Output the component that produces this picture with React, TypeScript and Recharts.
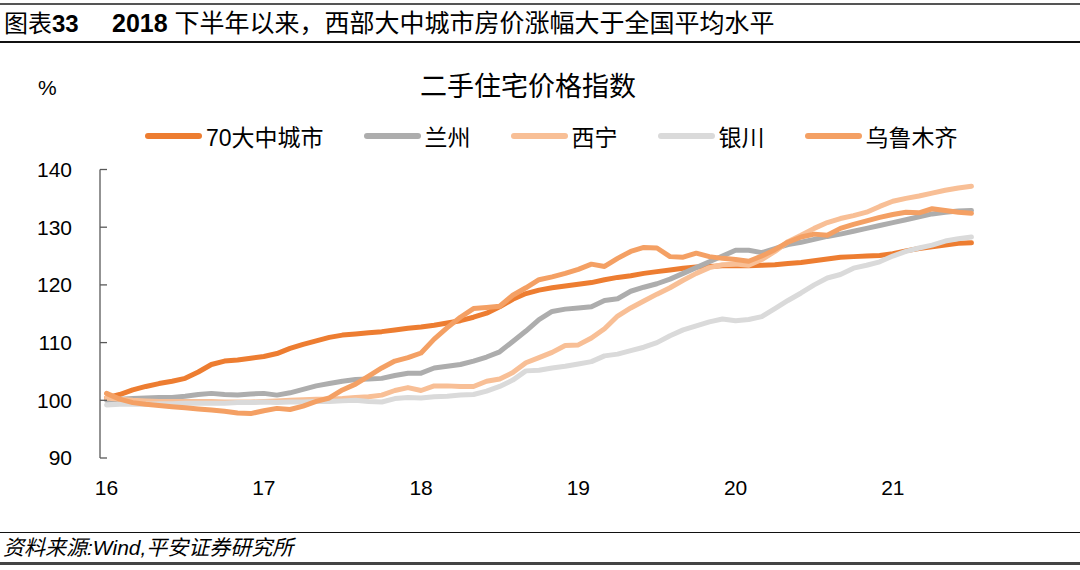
import React from "react";
import { LineChart, Line, XAxis, YAxis } from "recharts";

// 月度数据：2016-01 ~ 2021-07，共 67 个点
const YEARS = ["16", "17", "18", "19", "20", "21"];
const MONTHS = YEARS.flatMap((y) =>
  ["01", "02", "03", "04", "05", "06", "07", "08", "09", "10", "11", "12"].map((m) => `20${y}-${m}`)
).slice(0, 67);

const NATIONAL = [
  100.4, 101.0, 101.8, 102.4, 102.9, 103.3, 103.8, 104.9, 106.2, 106.8, 107.0, 107.3,
  107.6, 108.1, 109.0, 109.7, 110.3, 110.9, 111.3, 111.5, 111.7, 111.9, 112.2, 112.5,
  112.7, 113.0, 113.4, 113.8, 114.4, 115.1, 116.2, 117.5, 118.5, 119.1, 119.5, 119.8,
  120.1, 120.4, 120.9, 121.3, 121.6, 122.0, 122.3, 122.6, 122.9, 123.1, 123.2, 123.3,
  123.3, 123.3, 123.4, 123.5, 123.7, 123.9, 124.2, 124.5, 124.8, 124.9, 125.0, 125.1,
  125.4, 125.9, 126.3, 126.6, 126.9, 127.2, 127.3,
];
const LANZHOU = [
  100.0, 100.2, 100.3, 100.4, 100.5, 100.5, 100.7, 101.0, 101.2, 101.0, 100.9, 101.1,
  101.2, 100.9, 101.3, 101.9, 102.5, 102.9, 103.3, 103.6, 103.7, 103.8, 104.3, 104.7,
  104.7, 105.6, 105.9, 106.2, 106.8, 107.5, 108.4, 110.2, 112.0, 114.0, 115.4, 115.8,
  116.0, 116.2, 117.3, 117.6, 118.9, 119.6, 120.2, 121.0, 122.0, 123.0, 124.0, 125.0,
  126.0, 126.0, 125.6, 126.3, 127.0, 127.4, 127.9, 128.4, 128.8, 129.3, 129.8, 130.3,
  130.8, 131.3, 131.8, 132.3, 132.6, 132.8, 132.9,
];
const XINING = [
  100.4, 100.2, 100.0, 99.9, 99.8, 99.8, 99.8, 99.8, 99.8, 99.7, 99.7, 99.7,
  99.8, 99.9, 100.0, 100.1, 100.2, 100.2, 100.3, 100.5, 100.6, 100.9, 101.7, 102.2,
  101.7, 102.5, 102.5, 102.4, 102.4, 103.3, 103.7, 104.8, 106.5, 107.4, 108.3, 109.5,
  109.6, 110.8, 112.4, 114.6, 116.0, 117.2, 118.4, 119.5, 120.8, 122.0, 123.0, 123.5,
  123.6, 123.4, 124.4, 125.8, 127.5, 128.6, 129.8, 130.8, 131.5, 132.0, 132.6, 133.6,
  134.5, 135.0, 135.4, 135.9, 136.4, 136.8, 137.1,
];
const YINCHUAN = [
  99.2, 99.3, 99.3, 99.3, 99.4, 99.4, 99.5, 99.5, 99.5, 99.5, 99.6, 99.6,
  99.7, 99.6, 99.7, 99.7, 99.8, 99.8, 99.9, 100.0, 99.8, 99.7, 100.3, 100.5,
  100.4, 100.6, 100.7, 100.9, 101.0, 101.6, 102.4, 103.5, 105.1, 105.2, 105.6, 105.9,
  106.3, 106.7, 107.7, 108.0, 108.6, 109.2, 110.0, 111.2, 112.2, 112.9, 113.6, 114.1,
  113.8, 114.0, 114.5, 115.9, 117.3, 118.6, 120.0, 121.2, 121.8, 122.9, 123.4, 124.0,
  125.0, 125.8, 126.4, 126.9, 127.6, 128.0, 128.3,
];
const URUMQI = [
  101.2, 100.2, 99.6, 99.3, 99.1, 98.9, 98.7, 98.5, 98.3, 98.1, 97.8, 97.7,
  98.2, 98.6, 98.4, 99.0, 99.8, 100.4, 101.8, 102.8, 104.2, 105.6, 106.8, 107.4,
  108.2, 110.6, 112.6, 114.4, 115.9, 116.1, 116.3, 118.2, 119.5, 120.9, 121.4, 122.0,
  122.7, 123.6, 123.2, 124.6, 125.8, 126.5, 126.4, 124.9, 124.8, 125.5, 124.9, 124.6,
  124.4, 124.1, 125.0, 126.1, 127.4, 128.3, 128.8, 128.6, 129.8, 130.5, 131.1, 131.7,
  132.2, 132.6, 132.5, 133.2, 132.9, 132.6, 132.4,
];

const Y_TICKS = [90, 100, 110, 120, 130, 140];
const LABEL_TICKS = YEARS.map((_, k) => k * 12); // 每年 1 月
const BOUNDARY_TICKS = YEARS.map((_, k) => k * 12 - 0.5);

const SERIES = [
  { key: "national", name: "70大中城市", color: "#ED7D31", values: NATIONAL },
  { key: "lanzhou", name: "兰州", color: "#ADADAD", values: LANZHOU },
  { key: "xining", name: "西宁", color: "#F8BF96", values: XINING },
  { key: "yinchuan", name: "银川", color: "#DADADA", values: YINCHUAN },
  { key: "urumqi", name: "乌鲁木齐", color: "#F4A064", values: URUMQI },
];

const data = MONTHS.map((month, i) => {
  const row: Record<string, number | string> = { i, month };
  SERIES.forEach((s) => (row[s.key] = s.values[i]));
  return row;
});

const FONT = '"Liberation Sans", Arial, "Noto Sans CJK SC", sans-serif';
const AXIS = "#595959";

function YearTick({ x, y, payload }: any) {
  const label = YEARS[Math.round(payload.value / 12)];
  return (
    <text x={x} y={y} dy="0.71em" textAnchor="middle" fontSize={21} fill="#000" fontFamily={FONT}>
      {label}
    </text>
  );
}

export default function App() {
  return (
    <div style={{ position: "absolute", left: 0, top: 0, width: 1080, height: 570, background: "#fff", fontFamily: FONT, color: "#000" }}>
      {/* 标题栏 */}
      <div style={{ position: "absolute", left: 0, top: 3, width: 1080, height: 0, borderTop: "2px solid #555" }} />
      <div style={{ position: "absolute", left: 4, top: 8, fontSize: 24, lineHeight: "32px", whiteSpace: "nowrap" }}>
        <span>图表</span><b>33</b>
      </div>
      <div style={{ position: "absolute", left: 112, top: 7, fontSize: 25, lineHeight: "32px", whiteSpace: "nowrap" }}>
        <b>2018</b> 下半年以来，西部大中城市房价涨幅大于全国平均水平
      </div>
      <div style={{ position: "absolute", left: 0, top: 41, width: 1080, height: 0, borderTop: "2px solid #111" }} />

      <div style={{ position: "absolute", left: 38, top: 76, fontSize: 21, lineHeight: "24px" }}>%</div>
      <div style={{ position: "absolute", left: 0, width: 1056, top: 71, fontSize: 27, lineHeight: "32px", textAlign: "center" }}>
        二手住宅价格指数
      </div>

      {/* 图例 */}
      <div style={{ position: "absolute", left: 145, top: 121, height: 30, display: "flex", alignItems: "center", fontSize: 23, whiteSpace: "nowrap" }}>
        {SERIES.map((s) => (
          <div key={s.key} style={{ display: "flex", alignItems: "center", marginRight: 40 }}>
            <div style={{ width: 57, height: 6, borderRadius: 3, background: s.color, marginRight: 4 }} />
            <span>{s.name}</span>
          </div>
        ))}
      </div>

      <div style={{ position: "absolute", left: 0, top: 0 }}>
        <LineChart width={1080} height={570} data={data} margin={{ top: 169.5, right: 102, bottom: 72, left: 0 }}>
          <XAxis
            xAxisId="marks"
            dataKey="i"
            type="number"
            domain={[-0.5, 66.5]}
            ticks={BOUNDARY_TICKS}
            tick={false}
            tickSize={-7}
            height={0}
            stroke={AXIS}
            strokeWidth={1.3}
          />
          <XAxis
            xAxisId="labels"
            dataKey="i"
            type="number"
            domain={[-0.5, 66.5]}
            ticks={LABEL_TICKS}
            tick={<YearTick />}
            tickLine={false}
            axisLine={false}
            tickSize={0}
            tickMargin={22}
            height={40}
          />
          <YAxis
            domain={[90, 140]}
            ticks={Y_TICKS}
            width={100}
            tickSize={-7}
            tickMargin={35}
            stroke={AXIS}
            strokeWidth={1.3}
            tick={{ fontSize: 21, fill: "#000", fontFamily: FONT }}
          />
          {SERIES.map((s) => (
            <Line
              key={s.key}
              xAxisId="labels"
              dataKey={s.key}
              name={s.name}
              type="linear"
              stroke={s.color}
              strokeWidth={5}
              strokeLinejoin="round"
              strokeLinecap="round"
              dot={false}
              activeDot={false}
              isAnimationActive={false}
            />
          ))}
        </LineChart>
      </div>

      {/* 资料来源 */}
      <div style={{ position: "absolute", left: 0, top: 532, width: 1080, height: 0, borderTop: "1.5px solid #111" }} />
      <div style={{ position: "absolute", left: 3, top: 535, fontSize: 21, lineHeight: "26px", fontStyle: "italic", whiteSpace: "nowrap" }}>
        资料来源:Wind,平安证券研究所
      </div>
      <div style={{ position: "absolute", left: 0, top: 562, width: 1080, height: 0, borderTop: "3px solid #444" }} />
    </div>
  );
}
